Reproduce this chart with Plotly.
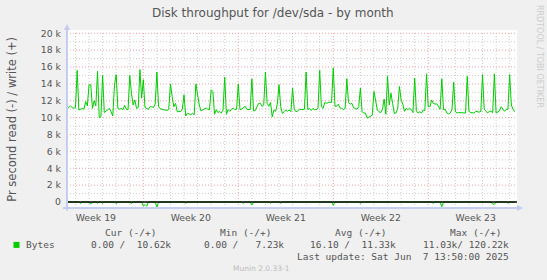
import pandas as pd
import plotly.graph_objects as go

# ---------------- data ----------------
title = "Disk throughput for /dev/sda - by month"
y_label = "Pr second read (-) / write (+)"
series_start = "2025-05-05 09:00"
step_hours = 3

# write bytes/s (thousands), one sample per 3 h
write_k = [
    11.0, 11.15, 11.4, 11.2, 11.1, 11.2, 15.6, 10.9, 11.0, 11.1,
    11.0, 11.9, 11.4, 13.9, 13.9, 11.1, 12.0, 11.4, 15.5, 10.0,
    10.1, 15.0, 10.6, 10.8, 10.9, 11.1, 10.7, 10.2, 13.9, 15.1,
    11.1, 11.0, 11.1, 10.95, 11.45, 11.0, 10.95, 15.0, 12.9, 11.5,
    12.1, 11.1, 11.2, 15.7, 12.3, 14.5, 11.2, 11.1, 11.0, 11.3,
    11.3, 11.2, 11.6, 15.4, 11.3, 11.05, 11.0, 10.9, 10.9, 10.85,
    11.0, 14.0, 12.5, 11.3, 11.7, 10.7, 10.75, 10.7, 11.0, 12.7,
    10.2, 10.5, 10.45, 10.35, 10.5, 10.35, 14.0, 12.5, 11.5, 10.8,
    10.95, 11.0, 11.15, 11.0, 10.95, 13.3, 13.1, 10.4, 10.95, 10.6,
    10.75, 10.55, 10.9, 14.8, 10.4, 10.95, 10.75, 11.0, 11.15, 10.95,
    11.0, 14.0, 10.95, 11.0, 11.15, 11.35, 11.0, 10.95, 10.95, 14.6,
    10.8, 10.85, 11.3, 11.7, 11.7, 11.35, 11.5, 15.4, 11.7, 11.35,
    11.8, 10.1, 10.9, 10.75, 11.6, 13.9, 11.3, 10.5, 10.7, 10.9,
    10.75, 10.9, 10.7, 13.5, 11.0, 10.7, 10.8, 11.0, 10.95, 10.95,
    11.0, 15.4, 10.95, 11.1, 10.85, 11.1, 10.95, 10.95, 11.1, 15.6,
    11.3, 11.1, 11.8, 11.7, 11.8, 11.85, 11.8, 15.9, 11.35, 11.35,
    11.6, 11.15, 11.1, 10.95, 11.1, 14.6, 11.8, 11.6, 11.7, 11.15,
    11.1, 11.0, 11.3, 13.5, 10.7, 10.55, 10.55, 9.95, 10.05, 10.2,
    10.3, 13.1, 11.9, 10.9, 10.7, 10.6, 11.0, 12.2, 10.4, 14.9,
    11.5, 12.9, 11.7, 10.5, 10.55, 11.1, 13.7, 12.1, 11.6, 10.75,
    11.1, 10.95, 11.1, 10.95, 10.6, 14.7, 10.8, 10.55, 10.7, 10.55,
    10.9, 10.85, 15.2, 11.3, 11.3, 12.1, 11.7, 11.6, 11.65, 11.3,
    11.0, 14.6, 10.95, 11.0, 10.55, 10.45, 10.55, 10.95, 14.2, 10.7,
    10.55, 10.6, 10.6, 10.55, 10.6, 10.55, 14.9, 10.75, 10.6, 10.6,
    10.55, 10.75, 10.7, 10.65, 10.75, 15.1, 11.0, 10.75, 10.55, 10.75,
    10.75, 10.6, 15.2, 10.55, 10.65, 10.8, 11.3, 10.95, 10.75, 10.95,
    11.0, 15.1, 11.5, 11.0, 10.7,
]

# read bytes/s (thousands): mostly zero, a few small bursts (sample index -> value)
read_burst_index = [8, 14, 18, 21, 29, 38, 45, 46, 47, 53, 70, 104, 109, 120, 126,
                    157, 173, 216, 221, 251, 252, 260]
read_burst_k = [0.15, 0.25, 0.15, 0.15, 0.2, 0.2, 0.5, 0.3, 0.5, 0.6, 0.15, 0.15,
                0.35, 0.15, 0.15, 0.4, 0.15, 0.15, 0.55, 0.25, 0.25, 0.15]

y_tick_values = [0, 2000, 4000, 6000, 8000, 10000, 12000, 14000, 16000, 18000, 20000]
y_tick_labels = ["0", "2 k", "4 k", "6 k", "8 k", "10 k", "12 k", "14 k", "16 k", "18 k", "20 k"]

week_label_dates = ["2025-05-07 12:00", "2025-05-14 12:00", "2025-05-21 12:00",
                    "2025-05-28 12:00", "2025-06-04 12:00"]
week_labels = ["Week 19", "Week 20", "Week 21", "Week 22", "Week 23"]
x_range = ["2025-05-05 09:00", "2025-06-07 13:00"]
y_range = [-709, 20390]

legend_name = "Bytes"
legend_headers = ["Cur (-/+)", "Min (-/+)", "Avg (-/+)", "Max (-/+)"]
legend_values = ["0.00 /\u00a0\u00a010.62k", "0.00 /\u00a0\u00a0\u00a07.23k",
                 "16.10 /\u00a0\u00a011.33k", "11.03k/ 120.22k"]
last_update = "Last update: Sat Jun\u00a0\u00a07 13:50:00 2025"
footer = "Munin 2.0.33-1"
side_text = "RRDTOOL / TOBI OETIKER"

# ---------------- build ----------------
n = len(write_k)
times = pd.date_range(series_start, periods=n, freq=f"{step_hours}h")
write = [v * 1000 for v in write_k]
read = [0.0] * n
for i, v in zip(read_burst_index, read_burst_k):
    read[i] = -v * 1000

GREEN = "#00CC00"
TEXT = "#555555"
AXIS = "#C4CCF0"
MINOR = "#CCCCCC"
MAJOR = "#EBA3A3"
W, H = 547, 280
L, R, T, B = 67, 517, 30, 208.5


def px(x):
    return (x - L) / (R - L)


def py(y):
    return (B - y) / (B - T)


fig = go.Figure()
fig.add_trace(go.Scatter(x=times, y=read, mode="lines", line=dict(color=GREEN, width=1),
                         hoverinfo="skip", showlegend=False))
fig.add_trace(go.Scatter(x=times, y=write, mode="lines", line=dict(color=GREEN, width=1),
                         hoverinfo="skip", showlegend=False))

shapes = []
# vertical day / week grid
for d in pd.date_range("2025-05-06", "2025-06-07", freq="D"):
    is_week = d.dayofweek == 6
    shapes.append(dict(type="line", xref="x", yref="paper", x0=d, x1=d, y0=0, y1=py(31),
                       line=dict(color=MAJOR if is_week else MINOR, width=1, dash="1px,2px"),
                       layer="below"))
# horizontal grid
for v in range(1000, 20001, 1000):
    is_major = v % 2000 == 0
    shapes.append(dict(type="line", xref="paper", yref="y", x0=0, x1=1, y0=v, y1=v,
                       line=dict(color=MAJOR if is_major else MINOR, width=1, dash="1px,2px"),
                       layer="below"))
# zero rule
shapes.append(dict(type="line", xref="paper", yref="y", x0=0, x1=1, y0=0, y1=0,
                   line=dict(color="#000000", width=1.6), layer="above"))
# axes with arrows
shapes.append(dict(type="line", xref="paper", yref="paper", x0=px(67), x1=px(67),
                   y0=py(211), y1=py(29), line=dict(color=AXIS, width=2), layer="above"))
shapes.append(dict(type="line", xref="paper", yref="paper", x0=px(63), x1=px(518),
                   y0=py(208.5), y1=py(208.5), line=dict(color=AXIS, width=2), layer="above"))
shapes.append(dict(type="path", xref="paper", yref="paper",
                   path=f"M {px(64)} {py(30)} L {px(70)} {py(30)} L {px(67)} {py(24)} Z",
                   fillcolor=AXIS, line=dict(width=0), layer="above"))
shapes.append(dict(type="path", xref="paper", yref="paper",
                   path=f"M {px(517)} {py(205.5)} L {px(517)} {py(211.5)} L {px(523)} {py(208.5)} Z",
                   fillcolor=AXIS, line=dict(width=0), layer="above"))
# legend swatch
shapes.append(dict(type="rect", xref="paper", yref="paper", x0=px(13.5), x1=px(19.5),
                   y0=py(248.5), y1=py(242.5), fillcolor=GREEN, line=dict(width=0)))

ann = []


def text(x, y, s, size, color=TEXT, family="DejaVu Sans", xanchor="center", angle=0):
    ann.append(dict(xref="paper", yref="paper", x=px(x), y=py(y), text=s, showarrow=False,
                    xanchor=xanchor, yanchor="middle", textangle=angle,
                    font=dict(family=family, size=size, color=color), borderpad=0))


text(273, 13, title, 12)
text(12, 120, y_label, 11.5, angle=-90)
text(539, 56, side_text, 8, color="#CCCCCC", angle=90)
mono = "DejaVu Sans Mono"
for s, xe in zip(legend_headers, [157, 272, 387, 502]):
    text(xe, 233.5, s, 9.5, family=mono, xanchor="right")
text(25, 245.5, legend_name, 9.5, family=mono, xanchor="left")
for s, xe in zip(legend_values, [172, 285, 397, 509.5]):
    text(xe, 245.5, s, 9.5, family=mono, xanchor="right")
text(509.5, 257.5, last_update, 9.5, family=mono, xanchor="right")
text(261, 269, footer, 7.5, color="#BBBBBB")

fig.update_layout(
    width=W, height=H, autosize=False,
    margin=dict(l=L, r=W - R, t=T, b=H - B, pad=0),
    paper_bgcolor="#F0F0F0", plot_bgcolor="#FFFFFF",
    shapes=shapes, annotations=ann, showlegend=False,
    xaxis=dict(type="date", range=x_range, tickmode="array", tickvals=week_label_dates,
               ticktext=week_labels, showgrid=False, zeroline=False, showline=False,
               ticks="", ticklabelstandoff=3,
               tickfont=dict(family="DejaVu Sans", size=9.3, color=TEXT)),
    yaxis=dict(range=y_range, tickmode="array", tickvals=y_tick_values, ticktext=y_tick_labels,
               showgrid=False, zeroline=False, showline=False, ticks="", ticklabelstandoff=5,
               tickfont=dict(family="DejaVu Sans", size=9.3, color=TEXT)),
)

fig.write_html("out.html")
